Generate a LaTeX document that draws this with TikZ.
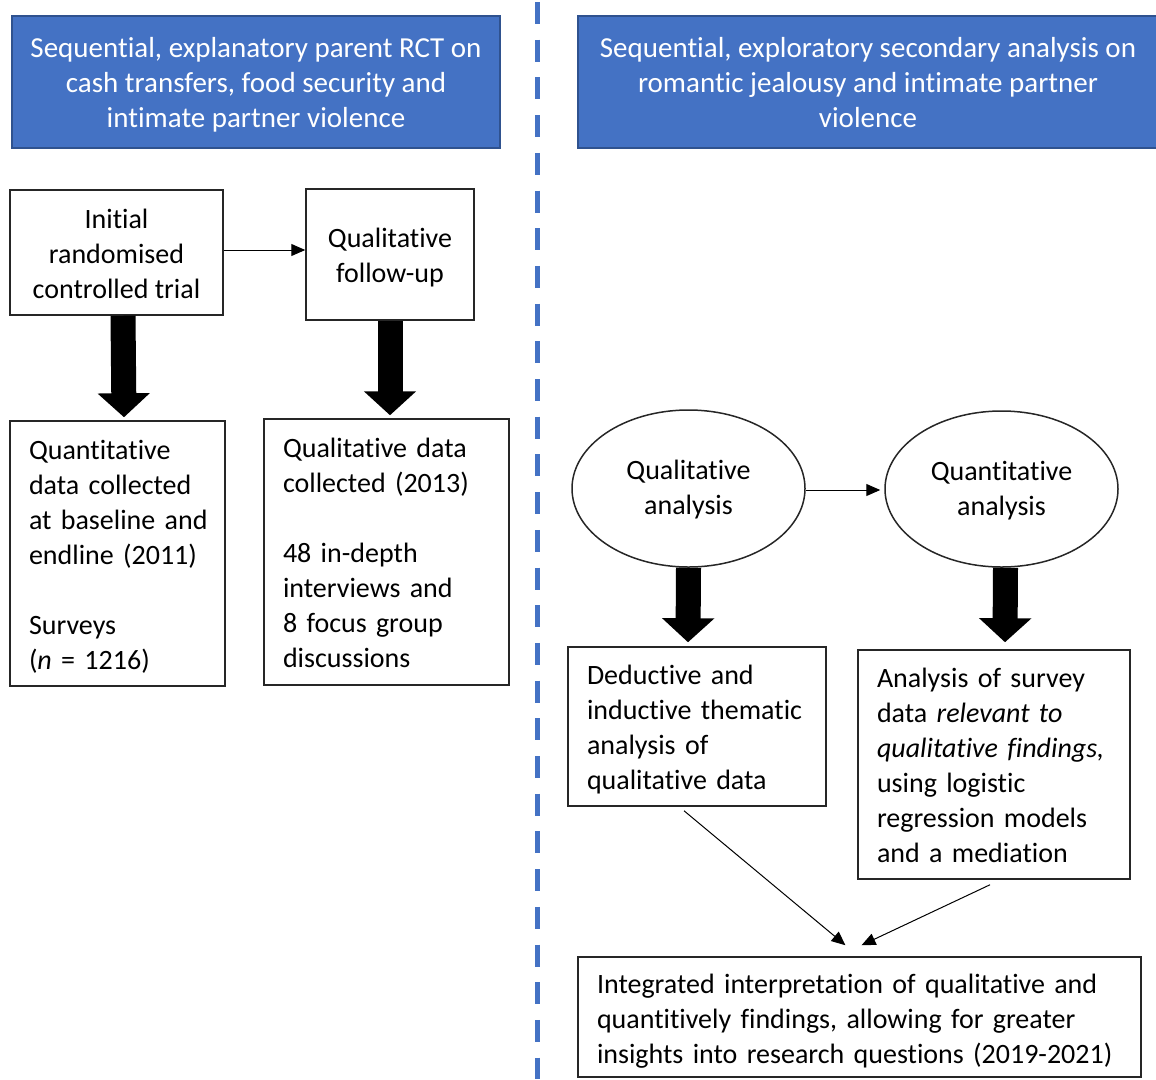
\documentclass[tikz,border=0pt]{standalone}
\usepackage{fontspec}
\setmainfont{Carlito}[Ligatures={NoCommon,NoContextual,NoRequired,NoRare}, Contextuals=NoAlternate]
\usetikzlibrary{arrows.meta,shapes.geometric}
\definecolor{hdrblue}{HTML}{4472C4}
\definecolor{hdrborder}{HTML}{2F528F}
\newcommand\ctab[2][3.5pt]{\raisebox{-#1}[\height][\depth]{\begin{tabular}{@{}c@{}}#2\end{tabular}}}
\newcommand\ltab[2][3.5pt]{\raisebox{-#1}[\height][\depth]{\begin{tabular}{@{}l@{}}#2\end{tabular}}}
\tikzset{
  hdr/.style={draw=hdrborder, fill=hdrblue, line width=1.5pt, text=white, inner sep=0pt, font=\fontsize{29}{35}\selectfont},
  cbox/.style={draw=black!85, line width=1.5pt, inner sep=0pt},
  lbox/.style={draw=black!85, line width=1.5pt, align=left, inner xsep=19pt, inner ysep=0pt},
  oval/.style={draw=black!85, line width=1.5pt, ellipse, inner sep=0pt},
  thin/.style={line width=1pt, -{Triangle[length=14pt,width=12pt]}},
  fat/.style={line width=25pt, -{Triangle[length=24pt,width=51pt]}},
  sep/.style={draw=hdrblue, line width=5pt, dash pattern=on 22pt off 15.7pt}
}
\begin{document}
\begin{tikzpicture}[x=1pt,y=-1pt, font=\fontsize{28}{35}\selectfont]
\clip (0,0) rectangle (1156,1079);
\useasboundingbox (0,0) rectangle (1156,1079);
% separator
\coordinate (sepTop) at (537,2);
\coordinate (sepBot) at (537,1079);
\draw[sep] (sepTop) -- (sepBot);
% headers
\node[hdr, minimum width=488pt, minimum height=132pt] (h1) at (256,82)
  {\ctab{Sequential, explanatory parent RCT on\\cash transfers, food security and\\intimate partner violence}};
\node[hdr, minimum width=580pt, minimum height=132pt] (h2) at (868,82)
  {\ctab{Sequential, exploratory secondary analysis on\\romantic jealousy and intimate partner\\violence}};
% left side
\node[cbox, minimum width=213pt, minimum height=125pt] (rct) at (116.5,252.5)
  {\ctab{Initial\\randomised\\controlled trial}};
\node[cbox, minimum width=168pt, minimum height=131pt] (fu) at (390,254.5)
  {\ctab{Qualitative\\follow-up}};
\node[lbox, minimum height=265pt, text width=177pt] (quant) at (117.5,553.5)
  {\ltab{Quantitative\\data collected\\at baseline and\\endline (2011)\\[35pt]Surveys\\(\textit{n} = 1216)}};
\node[lbox, minimum height=266pt, text width=207pt] (qual) at (386.5,552)
  {\ltab{Qualitative data\\collected (2013)\\[35pt]48 in-depth\\interviews and\\8 focus group\\discussions}};
\draw[thin] (rct.east |- 0,250) -- (fu.west |- 0,250);
\draw[fat] ([xshift=6.5pt]rct.south) -- ([xshift=6.5pt,yshift=3pt]quant.north);
\draw[fat] (fu.south) -- ([xshift=3.5pt,yshift=3pt]qual.north);
% right side
\node[oval, minimum width=233pt, minimum height=157pt] (e1) at (688.5,488.5)
  {\ctab[1.5pt]{Qualitative\\analysis}};
\node[oval, minimum width=233pt, minimum height=156pt] (e2) at (1001.5,489)
  {\ctab[2pt]{Quantitative\\analysis}};
\node[lbox, minimum height=159pt, text width=220pt] (ded) at (697,726.5)
  {\ltab{Deductive and\\inductive thematic\\analysis of\\qualitative data}};
\node[lbox, minimum height=229pt, text width=234pt] (ana) at (994,764.5)
  {\ltab{Analysis of survey\\data \textit{relevant to}\\\textit{qualitative findings,}\\using logistic\\regression models\\and a mediation}};
\node[lbox, minimum height=120pt, text width=525pt] (integ) at (859.5,1017)
  {\ltab[4.5pt]{Integrated interpretation of qualitative and\\quantitively findings, allowing for greater\\insights into research questions (2019-2021)}};
\draw[thin] (e1.east |- 0,490) -- ([xshift=-4pt]e2.west |- 0,490);
\draw[fat] (e1.south) -- ([xshift=-9pt,yshift=4pt]ded.north);
\draw[fat] ([xshift=4pt]e2.south) -- ([xshift=11pt,yshift=7pt]ana.north);
\coordinate (tipA) at ([xshift=-14pt,yshift=11pt]integ.north);
\coordinate (tipB) at ([xshift=2pt,yshift=11pt]integ.north);
\draw[thin] ([xshift=-13pt,yshift=-4pt]ded.south) -- (tipA);
\draw[thin] ([xshift=-4pt,yshift=-5pt]ana.south) -- (tipB);
\end{tikzpicture}
\end{document}
